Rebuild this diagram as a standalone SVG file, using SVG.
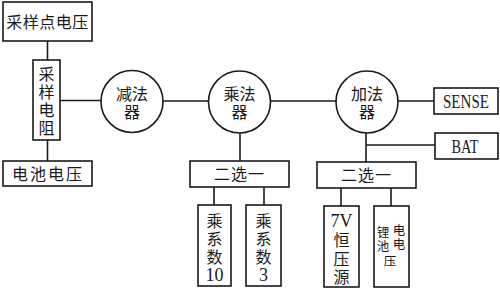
<svg xmlns="http://www.w3.org/2000/svg" width="500" height="290" viewBox="0 0 500 290">
<style>
.b{fill:#fff;stroke:#1a1a1a;stroke-width:1.6}
.c{stroke:#1a1a1a;stroke-width:1.6;fill:none}
text{font-family:"Liberation Serif","Noto Sans CJK SC",serif;fill:#1a1a1a;text-anchor:middle;dominant-baseline:central}
.t{font-size:16px}
.l{font-size:18px}
.s{font-size:12.5px}
</style>
<rect width="500" height="290" fill="#fff"/>
<g id="connectors" class="c">
<line x1="47.5" y1="41" x2="47.5" y2="60"/>
<line x1="47.5" y1="140" x2="47.5" y2="161"/>
<line x1="60" y1="100.5" x2="101" y2="100.5"/>
<line x1="163" y1="101" x2="208.5" y2="101"/>
<line x1="270.5" y1="101" x2="336" y2="101"/>
<line x1="398" y1="101" x2="434" y2="101"/>
<line x1="240" y1="133" x2="240" y2="161"/>
<line x1="366" y1="133" x2="366" y2="162"/>
<line x1="366" y1="145" x2="435" y2="145"/>
<line x1="214" y1="187" x2="214" y2="205"/>
<line x1="264" y1="187" x2="264" y2="205"/>
<line x1="341" y1="188" x2="341" y2="206"/>
<line x1="391" y1="188" x2="391" y2="206"/>
</g>
<g id="sample-point-voltage">
<rect class="b" x="3" y="2" width="89" height="39"/>
<text class="t" x="47.5" y="22" font-size="17" letter-spacing="0.5">采样点电压</text>
</g>
<g id="sample-resistor">
<rect class="b" x="33" y="60" width="27" height="80"/>
<text class="t" x="46.5" y="74">采</text>
<text class="t" x="46.5" y="92">样</text>
<text class="t" x="46.5" y="110">电</text>
<text class="t" x="46.5" y="128">阻</text>
</g>
<g id="battery-voltage">
<rect class="b" x="3" y="161" width="89" height="25"/>
<text class="t" x="48" y="174" font-size="17" letter-spacing="2">电池电压</text>
</g>
<g id="subtractor">
<circle class="b" cx="132" cy="101.5" r="31"/>
<text class="t" x="132" y="94">减法</text>
<text class="t" x="132" y="112">器</text>
</g>
<g id="multiplier">
<circle class="b" cx="239.5" cy="102" r="31"/>
<text class="t" x="239.5" y="94">乘法</text>
<text class="t" x="239.5" y="112">器</text>
</g>
<g id="adder">
<circle class="b" cx="367" cy="102" r="31"/>
<text class="t" x="367" y="94">加法</text>
<text class="t" x="367" y="112">器</text>
</g>
<g id="sense">
<rect class="b" x="434" y="88" width="64" height="26"/>
<text class="l" x="466" y="102" textLength="46" lengthAdjust="spacingAndGlyphs">SENSE</text>
</g>
<g id="bat">
<rect class="b" x="435" y="133" width="63" height="26"/>
<text class="l" x="465" y="147" textLength="27" lengthAdjust="spacingAndGlyphs">BAT</text>
</g>
<g id="mux-left">
<rect class="b" x="190" y="161" width="99" height="26"/>
<text class="t" x="239.5" y="174" font-size="17" letter-spacing="1">二选一</text>
</g>
<g id="mux-right">
<rect class="b" x="317" y="162" width="99" height="26"/>
<text class="t" x="366.5" y="175" font-size="17" letter-spacing="1">二选一</text>
</g>
<g id="coef-10">
<rect class="b" x="198" y="205" width="33" height="81"/>
<text class="t" x="214.5" y="221">乘</text>
<text class="t" x="214.5" y="239">系</text>
<text class="t" x="214.5" y="257">数</text>
<text class="l" x="214.5" y="275">10</text>
</g>
<g id="coef-3">
<rect class="b" x="246" y="205" width="35" height="81"/>
<text class="t" x="263.5" y="221">乘</text>
<text class="t" x="263.5" y="239">系</text>
<text class="t" x="263.5" y="257">数</text>
<text class="l" x="263.5" y="275">3</text>
</g>
<g id="const-7v">
<rect class="b" x="324" y="206" width="35" height="81"/>
<text class="l" x="341.5" y="221">7V</text>
<text class="t" x="341.5" y="240">恒</text>
<text class="t" x="341.5" y="259">压</text>
<text class="t" x="341.5" y="277">源</text>
</g>
<g id="li-battery-voltage">
<rect class="b" x="374" y="206" width="35" height="81"/>
<text class="s" x="383" y="233">锂</text>
<text class="s" x="399" y="231">电</text>
<text class="s" x="383" y="247">池</text>
<text class="s" x="399" y="245">电</text>
<text class="s" x="390" y="262">压</text>
</g>
</svg>
